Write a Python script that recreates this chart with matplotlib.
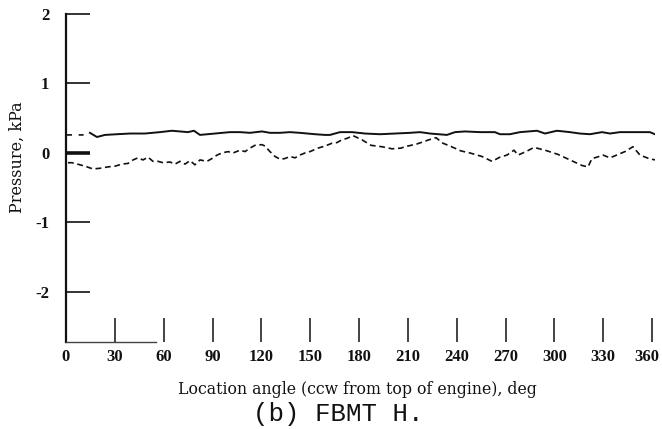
import matplotlib
matplotlib.use("Agg")
import matplotlib.pyplot as plt
import matplotlib.transforms as mtransforms
import numpy as np

# ---- data ----
upper_deg = [0.6, 5.5, 10.4, 14.7, 19.0, 24.0, 31.3, 39.3, 48.5, 57.7, 65.1, 70.0, 74.9, 78.6,
             82.3, 91.5, 100.7, 106.9, 113.0, 120.4, 125.3, 131.5, 137.6, 143.7, 153.0, 159.1,
             162.2, 168.3, 175.7, 183.7, 192.9, 202.1, 211.3, 217.5, 223.6, 234.0, 239.0, 245.1,
             254.3, 263.5, 266.6, 272.7, 278.9, 289.3, 294.3, 301.6, 309.6, 315.7, 321.9, 329.3,
             334.2, 340.3, 349.5, 358.7, 361.8]
upper_kpa = [0.26, 0.26, 0.26, 0.29, 0.23, 0.26, 0.27, 0.28, 0.28, 0.30, 0.32, 0.31, 0.30, 0.32,
             0.26, 0.28, 0.30, 0.30, 0.29, 0.31, 0.29, 0.29, 0.30, 0.29, 0.27, 0.26,
             0.26, 0.30, 0.30, 0.28, 0.27, 0.28, 0.29, 0.30, 0.28, 0.26, 0.30, 0.31,
             0.30, 0.30, 0.27, 0.27, 0.30, 0.32, 0.28, 0.32, 0.30, 0.28, 0.27, 0.30,
             0.28, 0.30, 0.30, 0.30, 0.27]

lower_deg = [1.2, 3.7, 8.6, 12.9, 16.6, 20.9, 25.8, 30.1, 34.4, 38.1, 41.2, 44.2, 47.3, 50.4,
             53.4, 56.5, 59.6, 63.9, 67.0, 70.0, 73.1, 76.2, 79.2, 82.3, 86.6, 89.7, 92.8,
             95.8, 99.5, 102.6, 106.9, 110.0, 113.0, 116.1, 120.4, 122.2, 125.3, 128.4, 131.5,
             134.5, 137.6, 140.7, 143.7, 146.8, 149.9, 154.8, 159.1, 163.4, 166.5, 169.5, 172.6,
             176.3, 181.8, 187.4, 194.1, 200.3, 205.8, 208.2, 215.6, 223.0, 227.3, 231.6, 235.9,
             242.6, 248.2, 255.5, 261.7, 266.6, 270.9, 275.2, 277.7, 282.6, 287.5, 294.3, 302.2,
             309.6, 317.0, 320.7, 323.1, 326.2, 329.9, 334.2, 343.4, 348.3, 352.6, 358.1, 361.8]
lower_kpa = [-0.14, -0.14, -0.17, -0.20, -0.23, -0.22, -0.20, -0.19, -0.16, -0.15, -0.10, -0.07, -0.10, -0.06,
             -0.12, -0.12, -0.14, -0.13, -0.16, -0.12, -0.16, -0.11, -0.17, -0.10, -0.12, -0.08, -0.03,
             0.00, 0.02, 0.00, 0.04, 0.02, 0.07, 0.11, 0.12, 0.10, 0.02, -0.05, -0.09,
             -0.08, -0.05, -0.07, -0.03, 0.00, 0.02, 0.07, 0.10, 0.14, 0.15, 0.19, 0.21,
             0.25, 0.19, 0.11, 0.09, 0.06, 0.07, 0.09, 0.13, 0.19, 0.22, 0.14, 0.10,
             0.03, 0.00, -0.05, -0.12, -0.06, -0.03, 0.04, -0.03, 0.02, 0.08, 0.04, -0.02,
             -0.10, -0.18, -0.20, -0.08, -0.06, -0.03, -0.07, 0.02, 0.09, -0.03, -0.08, -0.10]

x_ticks = [30, 60, 90, 120, 150, 180, 210, 240, 270, 300, 330, 360]
x_ticklabels = ["0", "30", "60", "90", "120", "150", "180", "210", "240", "270", "300", "330", "360"]
y_ticks = [-2, -1, 0, 1, 2]
y_ticklabels = ["-2", "-1", "0", "1", "2"]

xlabel = "Location angle (ccw from top of engine), deg"
ylabel = "Pressure, kPa"
caption = "(b) FBMT H."

# ---- figure ----
W, H = 662, 429
fig = plt.figure(figsize=(W / 100, H / 100), dpi=100)
x0_px, x362_px = 66, 66 + 362 * 586 / 360
ytop_px, ybot_px = 14, 342
ax = fig.add_axes([x0_px / W, 1 - ybot_px / H, (x362_px - x0_px) / W, (ybot_px - ytop_px) / H])
ax.set_xlim(0, 362)
ax.set_ylim(-2.72, 2.0)

ink = "#111111"
ax.plot(upper_deg[:4], upper_kpa[:4], color=ink, lw=1.2, ls=(0, (3, 4)))
ax.plot(upper_deg[3:], upper_kpa[3:], color=ink, lw=1.4, ls="-")
ax.plot(lower_deg, lower_kpa, color=ink, lw=1.2, ls=(0, (3.5, 2.2)))

for s in ["top", "right"]:
    ax.spines[s].set_visible(False)
ax.spines["left"].set_linewidth(1.6)
ax.spines["left"].set_color(ink)
ax.spines["bottom"].set_linewidth(1.0)
ax.spines["bottom"].set_color("#444444")
ax.spines["bottom"].set_bounds(0, 55)

serif_bold = dict(family="Liberation Serif", weight="bold", size=12)

ax.set_yticks(y_ticks)
ax.set_yticklabels(y_ticklabels, fontdict=serif_bold)
ax.tick_params(axis="y", direction="in", length=17.5, width=1.2, pad=12, colors=ink)
# thicker zero tick
for t, v in zip(ax.yaxis.get_major_ticks(), y_ticks):
    if v == 0:
        t.tick1line.set_markeredgewidth(2.6)

ax.set_xticks([0] + x_ticks)
ax.set_xticklabels(x_ticklabels, fontdict=serif_bold)
ax.tick_params(axis="x", direction="in", length=17.5, width=1.1, pad=5, colors=ink)
ax.xaxis.get_major_ticks()[0].tick1line.set_visible(False)
# nudge the last label left so it stays inside the figure (as in the reference)
last = ax.get_xticklabels()[-1]
last.set_transform(last.get_transform() + mtransforms.Affine2D().translate(-5, 0))

fig.text(17 / W, 1 - 157 / H, ylabel, rotation=90, ha="center", va="center",
         family="DejaVu Serif", size=11.5, color=ink)
fig.text(357 / W, 1 - 390 / H, xlabel, ha="center", va="center",
         family="DejaVu Serif", size=11.3, color=ink)
fig.text(338 / W, 1 - 414 / H, caption, ha="center", va="center",
         family="Liberation Mono", size=18.5, color=ink)

fig.savefig("out.png", dpi=100)
